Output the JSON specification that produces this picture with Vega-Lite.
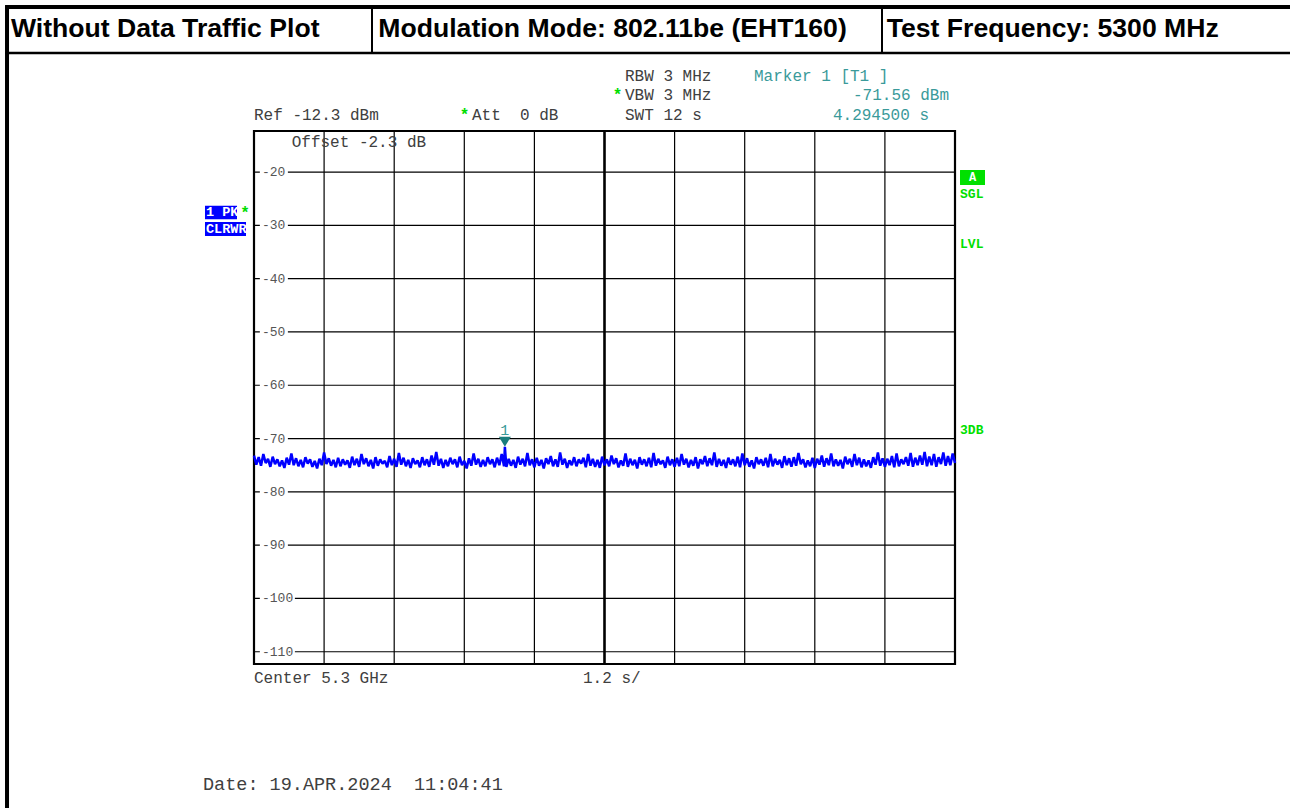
{
  "$schema": "https://vega.github.io/schema/vega-lite/v6.json",
  "width": 701,
  "height": 533,
  "autosize": {"type": "none"},
  "padding": {"left": 254, "top": 131, "right": 335, "bottom": 144},
  "background": "#ffffff",
  "config": {"view": {"stroke": "#000000", "strokeWidth": 2.2}, "text": {"font": "Liberation Mono"}},
  "datasets": {
    "trace": [
      {"t":0,"v":-73.2},{"t":0.04,"v":-74.9},{"t":0.08,"v":-73.5},{"t":0.12,"v":-75.1},{"t":0.16,"v":-72.9},{"t":0.2,"v":-74.6},{"t":0.24,"v":-73.8},{"t":0.28,"v":-75.3},{"t":0.32,"v":-73.4},{"t":0.36,"v":-74.8},
      {"t":0.4,"v":-73.9},{"t":0.44,"v":-75.2},{"t":0.48,"v":-74.1},{"t":0.52,"v":-75.5},{"t":0.56,"v":-73.6},{"t":0.6,"v":-74.9},{"t":0.64,"v":-72.8},{"t":0.68,"v":-75.0},{"t":0.72,"v":-73.7},{"t":0.76,"v":-75.2},
      {"t":0.8,"v":-74.0},{"t":0.84,"v":-75.4},{"t":0.88,"v":-73.5},{"t":0.92,"v":-74.7},{"t":0.96,"v":-73.9},{"t":1.0,"v":-75.3},{"t":1.04,"v":-74.2},{"t":1.08,"v":-75.6},{"t":1.12,"v":-73.8},{"t":1.16,"v":-75.0},
      {"t":1.2,"v":-72.6},{"t":1.24,"v":-74.8},{"t":1.28,"v":-73.7},{"t":1.32,"v":-75.1},{"t":1.36,"v":-74.0},{"t":1.4,"v":-75.4},{"t":1.44,"v":-73.6},{"t":1.48,"v":-75.2},{"t":1.52,"v":-73.9},{"t":1.56,"v":-74.9},
      {"t":1.6,"v":-74.1},{"t":1.64,"v":-75.5},{"t":1.68,"v":-73.4},{"t":1.72,"v":-75.0},{"t":1.76,"v":-73.8},{"t":1.8,"v":-75.3},{"t":1.84,"v":-72.9},{"t":1.88,"v":-74.8},{"t":1.92,"v":-73.7},{"t":1.96,"v":-75.2},
      {"t":2.0,"v":-74.0},{"t":2.04,"v":-75.6},{"t":2.08,"v":-73.5},{"t":2.12,"v":-75.1},{"t":2.16,"v":-73.9},{"t":2.2,"v":-74.7},{"t":2.24,"v":-74.2},{"t":2.28,"v":-75.4},{"t":2.32,"v":-73.3},{"t":2.36,"v":-75.0},
      {"t":2.4,"v":-73.8},{"t":2.44,"v":-75.3},{"t":2.48,"v":-72.7},{"t":2.52,"v":-74.9},{"t":2.56,"v":-73.6},{"t":2.6,"v":-75.2},{"t":2.64,"v":-74.0},{"t":2.68,"v":-75.5},{"t":2.72,"v":-73.7},{"t":2.76,"v":-74.8},
      {"t":2.8,"v":-74.1},{"t":2.84,"v":-75.4},{"t":2.88,"v":-73.5},{"t":2.92,"v":-75.0},{"t":2.96,"v":-73.9},{"t":3.0,"v":-75.3},{"t":3.04,"v":-73.2},{"t":3.08,"v":-74.9},{"t":3.12,"v":-72.5},{"t":3.16,"v":-75.1},
      {"t":3.2,"v":-73.8},{"t":3.24,"v":-75.5},{"t":3.28,"v":-74.0},{"t":3.32,"v":-75.2},{"t":3.36,"v":-73.6},{"t":3.4,"v":-74.8},{"t":3.44,"v":-73.9},{"t":3.48,"v":-75.4},{"t":3.52,"v":-73.4},{"t":3.56,"v":-75.0},
      {"t":3.6,"v":-74.2},{"t":3.64,"v":-75.6},{"t":3.68,"v":-73.7},{"t":3.72,"v":-75.1},{"t":3.76,"v":-72.8},{"t":3.8,"v":-74.9},{"t":3.84,"v":-73.8},{"t":3.88,"v":-75.3},{"t":3.92,"v":-74.0},{"t":3.96,"v":-75.2},
      {"t":4.0,"v":-73.5},{"t":4.04,"v":-74.8},{"t":4.08,"v":-73.9},{"t":4.12,"v":-75.4},{"t":4.16,"v":-73.6},{"t":4.2,"v":-75.0},{"t":4.24,"v":-72.9},{"t":4.28,"v":-75.2},{"t":4.2945,"v":-71.56},{"t":4.32,"v":-75.3},{"t":4.36,"v":-73.8},
      {"t":4.4,"v":-75.1},{"t":4.44,"v":-74.0},{"t":4.48,"v":-75.5},{"t":4.52,"v":-73.4},{"t":4.56,"v":-74.9},{"t":4.6,"v":-73.8},{"t":4.64,"v":-75.2},{"t":4.68,"v":-72.7},{"t":4.72,"v":-75.0},{"t":4.76,"v":-73.9},
      {"t":4.8,"v":-75.4},{"t":4.84,"v":-73.6},{"t":4.88,"v":-75.1},{"t":4.92,"v":-74.0},{"t":4.96,"v":-75.6},{"t":5.0,"v":-73.7},{"t":5.04,"v":-74.8},{"t":5.08,"v":-73.3},{"t":5.12,"v":-75.2},{"t":5.16,"v":-73.9},
      {"t":5.2,"v":-75.3},{"t":5.24,"v":-72.6},{"t":5.28,"v":-74.9},{"t":5.32,"v":-73.8},{"t":5.36,"v":-75.5},{"t":5.4,"v":-74.1},{"t":5.44,"v":-75.0},{"t":5.48,"v":-73.5},{"t":5.52,"v":-75.2},{"t":5.56,"v":-73.9},
      {"t":5.6,"v":-74.7},{"t":5.64,"v":-73.6},{"t":5.68,"v":-75.4},{"t":5.72,"v":-72.9},{"t":5.76,"v":-75.1},{"t":5.8,"v":-73.8},{"t":5.84,"v":-75.3},{"t":5.88,"v":-74.0},{"t":5.92,"v":-75.5},{"t":5.96,"v":-73.4},
      {"t":6.0,"v":-75.0},{"t":6.04,"v":-73.9},{"t":6.08,"v":-75.2},{"t":6.12,"v":-73.2},{"t":6.16,"v":-74.8},{"t":6.2,"v":-73.7},{"t":6.24,"v":-75.4},{"t":6.28,"v":-74.1},{"t":6.32,"v":-75.1},{"t":6.36,"v":-72.8},
      {"t":6.4,"v":-75.3},{"t":6.44,"v":-73.8},{"t":6.48,"v":-75.0},{"t":6.52,"v":-74.0},{"t":6.56,"v":-75.6},{"t":6.6,"v":-73.5},{"t":6.64,"v":-74.9},{"t":6.68,"v":-73.9},{"t":6.72,"v":-75.2},{"t":6.76,"v":-73.6},
      {"t":6.8,"v":-75.4},{"t":6.84,"v":-72.7},{"t":6.88,"v":-75.1},{"t":6.92,"v":-73.8},{"t":6.96,"v":-74.8},{"t":7.0,"v":-74.1},{"t":7.04,"v":-75.5},{"t":7.08,"v":-73.4},{"t":7.12,"v":-75.0},{"t":7.16,"v":-73.9},
      {"t":7.2,"v":-75.3},{"t":7.24,"v":-73.6},{"t":7.28,"v":-75.2},{"t":7.32,"v":-72.9},{"t":7.36,"v":-74.9},{"t":7.4,"v":-73.8},{"t":7.44,"v":-75.4},{"t":7.48,"v":-74.0},{"t":7.52,"v":-75.1},{"t":7.56,"v":-73.5},
      {"t":7.6,"v":-75.6},{"t":7.64,"v":-73.9},{"t":7.68,"v":-74.8},{"t":7.72,"v":-73.3},{"t":7.76,"v":-75.2},{"t":7.8,"v":-73.7},{"t":7.84,"v":-75.0},{"t":7.88,"v":-72.6},{"t":7.92,"v":-75.3},{"t":7.96,"v":-73.8},
      {"t":8.0,"v":-75.1},{"t":8.04,"v":-74.0},{"t":8.08,"v":-75.5},{"t":8.12,"v":-73.6},{"t":8.16,"v":-74.9},{"t":8.2,"v":-73.9},{"t":8.24,"v":-75.2},{"t":8.28,"v":-73.4},{"t":8.32,"v":-75.4},{"t":8.36,"v":-72.8},
      {"t":8.4,"v":-75.0},{"t":8.44,"v":-73.7},{"t":8.48,"v":-75.3},{"t":8.52,"v":-74.1},{"t":8.56,"v":-75.6},{"t":8.6,"v":-73.5},{"t":8.64,"v":-74.8},{"t":8.68,"v":-73.9},{"t":8.72,"v":-75.1},{"t":8.76,"v":-73.6},
      {"t":8.8,"v":-75.4},{"t":8.84,"v":-72.9},{"t":8.88,"v":-75.2},{"t":8.92,"v":-73.8},{"t":8.96,"v":-74.9},{"t":9.0,"v":-74.0},{"t":9.04,"v":-75.5},{"t":9.08,"v":-73.3},{"t":9.12,"v":-75.0},{"t":9.16,"v":-73.7},
      {"t":9.2,"v":-75.3},{"t":9.24,"v":-73.5},{"t":9.28,"v":-75.1},{"t":9.32,"v":-72.7},{"t":9.36,"v":-74.8},{"t":9.4,"v":-73.9},{"t":9.44,"v":-75.4},{"t":9.48,"v":-74.1},{"t":9.52,"v":-75.2},{"t":9.56,"v":-73.6},
      {"t":9.6,"v":-75.5},{"t":9.64,"v":-73.8},{"t":9.68,"v":-74.9},{"t":9.72,"v":-73.2},{"t":9.76,"v":-75.3},{"t":9.8,"v":-73.7},{"t":9.84,"v":-75.0},{"t":9.88,"v":-72.8},{"t":9.92,"v":-75.2},{"t":9.96,"v":-73.9},
      {"t":10.0,"v":-75.1},{"t":10.04,"v":-74.0},{"t":10.08,"v":-75.6},{"t":10.12,"v":-73.4},{"t":10.16,"v":-74.8},{"t":10.2,"v":-73.8},{"t":10.24,"v":-75.3},{"t":10.28,"v":-72.9},{"t":10.32,"v":-75.0},{"t":10.36,"v":-73.6},
      {"t":10.4,"v":-75.4},{"t":10.44,"v":-73.9},{"t":10.48,"v":-75.2},{"t":10.52,"v":-74.1},{"t":10.56,"v":-75.5},{"t":10.6,"v":-73.5},{"t":10.64,"v":-74.9},{"t":10.68,"v":-72.6},{"t":10.72,"v":-75.1},{"t":10.76,"v":-73.7},
      {"t":10.8,"v":-75.3},{"t":10.84,"v":-73.8},{"t":10.88,"v":-75.0},{"t":10.92,"v":-73.3},{"t":10.96,"v":-75.4},{"t":11.0,"v":-72.8},{"t":11.04,"v":-75.2},{"t":11.08,"v":-73.9},{"t":11.12,"v":-74.8},{"t":11.16,"v":-73.5},
      {"t":11.2,"v":-75.1},{"t":11.24,"v":-72.7},{"t":11.28,"v":-75.3},{"t":11.32,"v":-73.6},{"t":11.36,"v":-75.0},{"t":11.4,"v":-73.2},{"t":11.44,"v":-74.9},{"t":11.48,"v":-72.5},{"t":11.52,"v":-75.2},{"t":11.56,"v":-73.4},
      {"t":11.6,"v":-75.0},{"t":11.64,"v":-72.9},{"t":11.68,"v":-75.3},{"t":11.72,"v":-73.5},{"t":11.76,"v":-74.8},{"t":11.8,"v":-72.6},{"t":11.84,"v":-75.1},{"t":11.88,"v":-73.3},{"t":11.92,"v":-75.0},{"t":11.96,"v":-72.8},
      {"t":12.0,"v":-74.6}
    ]
  },
  "layer": [
    {
      "data": {"values": [{"t": 1.2}, {"t": 2.4}, {"t": 3.6}, {"t": 4.8}, {"t": 7.2}, {"t": 8.4}, {"t": 9.6}, {"t": 10.8}]},
      "mark": {"type": "rule", "color": "#000000", "strokeWidth": 1.2},
      "encoding": {"x": {"field": "t", "type": "quantitative", "scale": {"domain": [0, 12], "nice": false, "zero": false}, "axis": null}}
    },
    {
      "data": {"values": [{"t": 6}]},
      "mark": {"type": "rule", "color": "#000000", "strokeWidth": 2.6},
      "encoding": {"x": {"field": "t", "type": "quantitative", "scale": {"domain": [0, 12], "nice": false, "zero": false}, "axis": null}}
    },
    {
      "data": {"values": [{"v": -20}, {"v": -30}, {"v": -40}, {"v": -50}, {"v": -60}, {"v": -70}, {"v": -80}, {"v": -90}, {"v": -100}, {"v": -110}]},
      "mark": {"type": "rule", "color": "#000000", "strokeWidth": 1.2},
      "encoding": {"y": {"field": "v", "type": "quantitative", "scale": {"domain": [-112.3, -12.3], "nice": false, "zero": false}, "axis": null}}
    },
    {
      "data": {"values": [
        {"v": -20, "t": 0.1, "t2": 0.58}, {"v": -30, "t": 0.1, "t2": 0.58}, {"v": -40, "t": 0.1, "t2": 0.58}, {"v": -50, "t": 0.1, "t2": 0.58},
        {"v": -60, "t": 0.1, "t2": 0.58}, {"v": -70, "t": 0.1, "t2": 0.58}, {"v": -80, "t": 0.1, "t2": 0.58}, {"v": -90, "t": 0.1, "t2": 0.58},
        {"v": -100, "t": 0.1, "t2": 0.7}, {"v": -110, "t": 0.1, "t2": 0.7}
      ]},
      "mark": {"type": "rule", "color": "#ffffff", "strokeWidth": 8, "strokeCap": "butt"},
      "encoding": {
        "x": {"field": "t", "type": "quantitative", "scale": {"domain": [0, 12], "nice": false, "zero": false}, "axis": null},
        "x2": {"field": "t2"},
        "y": {"field": "v", "type": "quantitative", "scale": {"domain": [-112.3, -12.3], "nice": false, "zero": false}, "axis": null}
      }
    },
    {
      "data": {"values": [
        {"t": 0.137, "v": -20, "label": "-20"}, {"t": 0.137, "v": -30, "label": "-30"}, {"t": 0.137, "v": -40, "label": "-40"}, {"t": 0.137, "v": -50, "label": "-50"},
        {"t": 0.137, "v": -60, "label": "-60"}, {"t": 0.137, "v": -70, "label": "-70"}, {"t": 0.137, "v": -80, "label": "-80"}, {"t": 0.137, "v": -90, "label": "-90"},
        {"t": 0.137, "v": -100, "label": "-100"}, {"t": 0.137, "v": -110, "label": "-110"}
      ]},
      "mark": {"type": "text", "align": "left", "baseline": "middle", "fontSize": 13, "color": "#555555"},
      "encoding": {
        "x": {"field": "t", "type": "quantitative", "scale": {"domain": [0, 12], "nice": false, "zero": false}, "axis": null},
        "y": {"field": "v", "type": "quantitative", "scale": {"domain": [-112.3, -12.3], "nice": false, "zero": false}, "axis": null},
        "text": {"field": "label"}
      }
    },
    {
      "data": {"name": "trace"},
      "mark": {"type": "line", "color": "#0000ff", "strokeWidth": 2.5, "strokeJoin": "bevel"},
      "encoding": {
        "x": {"field": "t", "type": "quantitative", "scale": {"domain": [0, 12], "nice": false, "zero": false}, "axis": null},
        "y": {"field": "v", "type": "quantitative", "scale": {"domain": [-112.3, -12.3], "nice": false, "zero": false}, "axis": null}
      }
    },
    {
      "data": {"values": [{"t": 4.2945, "v": -71.56}]},
      "mark": {"type": "point", "shape": "M-1,-1.67L1,-1.67L0,0Z", "size": 144, "filled": true, "color": "#1a7d7d", "opacity": 1},
      "encoding": {
        "x": {"field": "t", "type": "quantitative", "scale": {"domain": [0, 12], "nice": false, "zero": false}, "axis": null},
        "y": {"field": "v", "type": "quantitative", "scale": {"domain": [-112.3, -12.3], "nice": false, "zero": false}, "axis": null}
      }
    },
    {
      "data": {"values": [{"t": 4.2945, "v": -71.56, "label": "1"}]},
      "mark": {"type": "text", "align": "center", "baseline": "alphabetic", "dy": -12, "fontSize": 15, "color": "#3a9a9a"},
      "encoding": {
        "x": {"field": "t", "type": "quantitative", "scale": {"domain": [0, 12], "nice": false, "zero": false}, "axis": null},
        "y": {"field": "v", "type": "quantitative", "scale": {"domain": [-112.3, -12.3], "nice": false, "zero": false}, "axis": null},
        "text": {"field": "label"}
      }
    },
    {
      "data": {"values": [
        {"t": 0, "v": -9.3, "label": "Ref -12.3 dBm"},
        {"t": 3.732, "v": -9.3, "label": "Att \u00a00 dB"},
        {"t": 6.351, "v": -1.92, "label": "RBW 3 MHz"},
        {"t": 6.351, "v": -5.55, "label": "VBW 3 MHz"},
        {"t": 6.351, "v": -9.3, "label": "SWT 12 s"},
        {"t": 0.645, "v": -14.31, "label": "Offset -2.3 dB"},
        {"t": 0, "v": -114.93, "label": "Center 5.3 GHz"},
        {"t": 5.632, "v": -114.93, "label": "1.2 s/"}
      ]},
      "mark": {"type": "text", "align": "left", "baseline": "middle", "fontSize": 16, "color": "#404040"},
      "encoding": {
        "x": {"field": "t", "type": "quantitative", "scale": {"domain": [0, 12], "nice": false, "zero": false}, "axis": null},
        "y": {"field": "v", "type": "quantitative", "scale": {"domain": [-112.3, -12.3], "nice": false, "zero": false}, "axis": null},
        "text": {"field": "label"}
      }
    },
    {
      "data": {"values": [{"t": -0.873, "v": -134.81, "label": "Date: 19.APR.2024 \u00a011:04:41"}]},
      "mark": {"type": "text", "align": "left", "baseline": "middle", "fontSize": 18.5, "color": "#404040"},
      "encoding": {
        "x": {"field": "t", "type": "quantitative", "scale": {"domain": [0, 12], "nice": false, "zero": false}, "axis": null},
        "y": {"field": "v", "type": "quantitative", "scale": {"domain": [-112.3, -12.3], "nice": false, "zero": false}, "axis": null},
        "text": {"field": "label"}
      }
    },
    {
      "data": {"values": [
        {"t": 8.559, "v": -1.92, "label": "Marker 1 [T1 ]"},
        {"t": 10.254, "v": -5.55, "label": "-71.56 dBm"},
        {"t": 9.911, "v": -9.3, "label": "4.294500 s"}
      ]},
      "mark": {"type": "text", "align": "left", "baseline": "middle", "fontSize": 16, "color": "#3a9a9a"},
      "encoding": {
        "x": {"field": "t", "type": "quantitative", "scale": {"domain": [0, 12], "nice": false, "zero": false}, "axis": null},
        "y": {"field": "v", "type": "quantitative", "scale": {"domain": [-112.3, -12.3], "nice": false, "zero": false}, "axis": null},
        "text": {"field": "label"}
      }
    },
    {
      "data": {"values": [
        {"t": 6.222, "v": -5.55, "label": "*"},
        {"t": 3.603, "v": -9.3, "label": "*"},
        {"t": -0.154, "v": -27.68, "label": "*"}
      ]},
      "mark": {"type": "text", "align": "center", "baseline": "middle", "fontSize": 16, "fontWeight": "bold", "color": "#00dd00"},
      "encoding": {
        "x": {"field": "t", "type": "quantitative", "scale": {"domain": [0, 12], "nice": false, "zero": false}, "axis": null},
        "y": {"field": "v", "type": "quantitative", "scale": {"domain": [-112.3, -12.3], "nice": false, "zero": false}, "axis": null},
        "text": {"field": "label"}
      }
    },
    {
      "data": {"values": [
        {"t": -0.839, "t2": -0.291, "v": -26.31, "v2": -28.87},
        {"t": -0.839, "t2": -0.137, "v": -29.37, "v2": -31.99}
      ]},
      "mark": {"type": "rect", "color": "#0000ff", "opacity": 1},
      "encoding": {
        "x": {"field": "t", "type": "quantitative", "scale": {"domain": [0, 12], "nice": false, "zero": false}, "axis": null},
        "x2": {"field": "t2"},
        "y": {"field": "v", "type": "quantitative", "scale": {"domain": [-112.3, -12.3], "nice": false, "zero": false}, "axis": null},
        "y2": {"field": "v2"}
      }
    },
    {
      "data": {"values": [
        {"t": -0.822, "v": -27.59, "label": "1 PK"},
        {"t": -0.822, "v": -30.69, "label": "CLRWR"}
      ]},
      "mark": {"type": "text", "align": "left", "baseline": "middle", "fontSize": 13.5, "fontWeight": "bold", "color": "#ffffff"},
      "encoding": {
        "x": {"field": "t", "type": "quantitative", "scale": {"domain": [0, 12], "nice": false, "zero": false}, "axis": null},
        "y": {"field": "v", "type": "quantitative", "scale": {"domain": [-112.3, -12.3], "nice": false, "zero": false}, "axis": null},
        "text": {"field": "label"}
      }
    },
    {
      "data": {"values": [{"t": 12.086, "t2": 12.514, "v": -19.62, "v2": -22.43}]},
      "mark": {"type": "rect", "color": "#00e000", "opacity": 1},
      "encoding": {
        "x": {"field": "t", "type": "quantitative", "scale": {"domain": [0, 12], "nice": false, "zero": false}, "axis": null},
        "x2": {"field": "t2"},
        "y": {"field": "v", "type": "quantitative", "scale": {"domain": [-112.3, -12.3], "nice": false, "zero": false}, "axis": null},
        "y2": {"field": "v2"}
      }
    },
    {
      "data": {"values": [{"t": 12.3, "v": -21.02, "label": "A"}]},
      "mark": {"type": "text", "align": "center", "baseline": "middle", "fontSize": 12, "fontWeight": "bold", "color": "#ffffff"},
      "encoding": {
        "x": {"field": "t", "type": "quantitative", "scale": {"domain": [0, 12], "nice": false, "zero": false}, "axis": null},
        "y": {"field": "v", "type": "quantitative", "scale": {"domain": [-112.3, -12.3], "nice": false, "zero": false}, "axis": null},
        "text": {"field": "label"}
      }
    },
    {
      "data": {"values": [
        {"t": 12.086, "v": -24.12, "label": "SGL"},
        {"t": 12.086, "v": -33.5, "label": "LVL"},
        {"t": 12.086, "v": -68.4, "label": "3DB"}
      ]},
      "mark": {"type": "text", "align": "left", "baseline": "middle", "fontSize": 13, "fontWeight": "bold", "color": "#00e000"},
      "encoding": {
        "x": {"field": "t", "type": "quantitative", "scale": {"domain": [0, 12], "nice": false, "zero": false}, "axis": null},
        "y": {"field": "v", "type": "quantitative", "scale": {"domain": [-112.3, -12.3], "nice": false, "zero": false}, "axis": null},
        "text": {"field": "label"}
      }
    },
    {
      "data": {"values": [{"t": -4.26, "t2": 18, "v": 10.96}]},
      "mark": {"type": "rule", "color": "#000000", "strokeWidth": 4},
      "encoding": {
        "x": {"field": "t", "type": "quantitative", "scale": {"domain": [0, 12], "nice": false, "zero": false}, "axis": null},
        "x2": {"field": "t2"},
        "y": {"field": "v", "type": "quantitative", "scale": {"domain": [-112.3, -12.3], "nice": false, "zero": false}, "axis": null}
      }
    },
    {
      "data": {"values": [{"t": -4.26, "t2": 18, "v": 2.33}]},
      "mark": {"type": "rule", "color": "#000000", "strokeWidth": 2.5},
      "encoding": {
        "x": {"field": "t", "type": "quantitative", "scale": {"domain": [0, 12], "nice": false, "zero": false}, "axis": null},
        "x2": {"field": "t2"},
        "y": {"field": "v", "type": "quantitative", "scale": {"domain": [-112.3, -12.3], "nice": false, "zero": false}, "axis": null}
      }
    },
    {
      "data": {"values": [{"t": -4.228, "v": 11.3, "v2": -140}]},
      "mark": {"type": "rule", "color": "#000000", "strokeWidth": 4},
      "encoding": {
        "x": {"field": "t", "type": "quantitative", "scale": {"domain": [0, 12], "nice": false, "zero": false}, "axis": null},
        "y": {"field": "v", "type": "quantitative", "scale": {"domain": [-112.3, -12.3], "nice": false, "zero": false}, "axis": null},
        "y2": {"field": "v2"}
      }
    },
    {
      "data": {"values": [{"t": 2.02, "v": 10.96, "v2": 2.33}, {"t": 10.75, "v": 10.96, "v2": 2.33}]},
      "mark": {"type": "rule", "color": "#000000", "strokeWidth": 2},
      "encoding": {
        "x": {"field": "t", "type": "quantitative", "scale": {"domain": [0, 12], "nice": false, "zero": false}, "axis": null},
        "y": {"field": "v", "type": "quantitative", "scale": {"domain": [-112.3, -12.3], "nice": false, "zero": false}, "axis": null},
        "y2": {"field": "v2"}
      }
    },
    {
      "data": {"values": [
        {"t": -4.16, "v": 6.93, "label": "Without Data Traffic Plot"},
        {"t": 2.128, "v": 6.93, "label": "Modulation Mode: 802.11be (EHT160)"},
        {"t": 10.831, "v": 6.93, "label": "Test Frequency: 5300 MHz"}
      ]},
      "mark": {"type": "text", "align": "left", "baseline": "middle", "font": "Liberation Sans", "fontWeight": "bold", "fontSize": 26.6, "color": "#000000"},
      "encoding": {
        "x": {"field": "t", "type": "quantitative", "scale": {"domain": [0, 12], "nice": false, "zero": false}, "axis": null},
        "y": {"field": "v", "type": "quantitative", "scale": {"domain": [-112.3, -12.3], "nice": false, "zero": false}, "axis": null},
        "text": {"field": "label"}
      }
    }
  ]
}
